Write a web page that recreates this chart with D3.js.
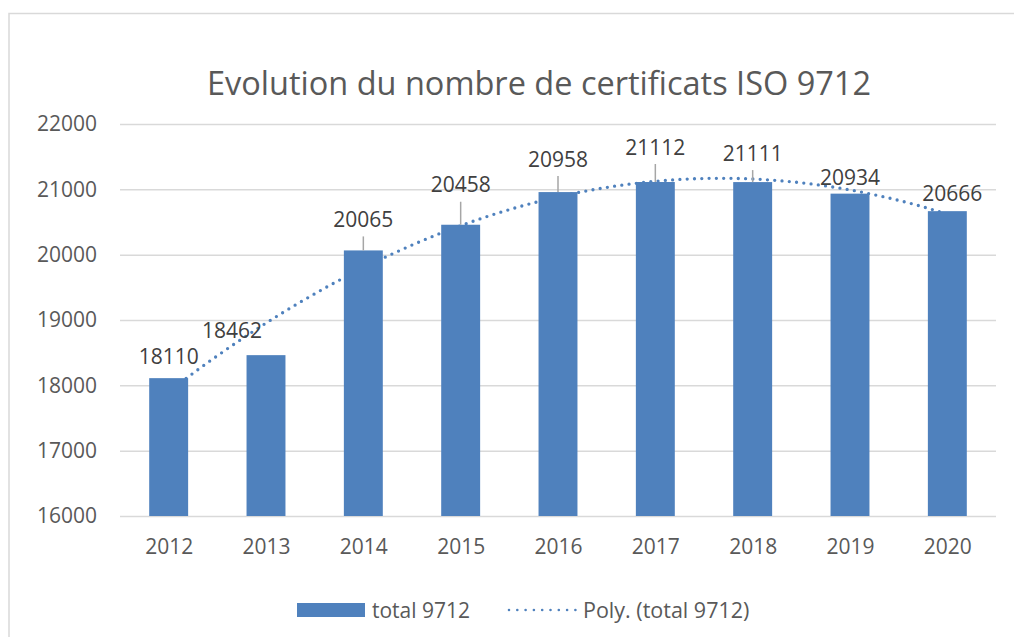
<!DOCTYPE html>
<html>
<head>
<meta charset="utf-8">
<script src="https://cdn.jsdelivr.net/npm/d3@7/dist/d3.min.js"></script>
<style>
  html, body { margin: 0; padding: 0; background: #fff; }
  svg { display: block; }
  text { font-family: "Open Sans", "Liberation Sans", sans-serif; }
</style>
</head>
<body>
<svg id="chart" width="1014" height="637"></svg>
<script>
// ---- data ----
const categories = ["2012", "2013", "2014", "2015", "2016", "2017", "2018", "2019", "2020"];
const values = [18110, 18462, 20065, 20458, 20958, 21112, 21111, 20934, 20666];
const yTicks = [16000, 17000, 18000, 19000, 20000, 21000, 22000];
const seriesName = "total 9712";
const trendName = "Poly. (total 9712)";
const titleText = "Evolution du nombre de certificats ISO 9712";
// label placement (pixels: horizontal shift from bar center, label center above bar top), as in the original
const labelDx = [0, -34, 0, 0, 0, 0, 0, 0, 5];
const labelDy = [-22, -25, -31, -40, -33, -35, -29, -16, -18];

const W = 1014, H = 637;
const margin = { left: 120, right: 1014 - 996, top: 124, bottom: 637 - 516 };
const svg = d3.select("#chart");

const blue = "#4F81BD";
const grid = "#D9D9D9";
const axisText = "#595959";

// chart border
svg.append("path")
  .attr("d", `M9,${H} V13.5 H${W}`)
  .attr("fill", "none").attr("stroke", grid).attr("stroke-width", 1.5);

const x = d3.scaleBand().domain(categories).range([margin.left, W - margin.right]).paddingInner(0.6).paddingOuter(0.3);
const xc = d3.scalePoint().domain(categories).range([margin.left, W - margin.right]).padding(0.5);
const y = d3.scaleLinear().domain([16000, 22000]).range([H - margin.bottom, margin.top]);

// title
svg.append("text").attr("x", 539).attr("y", 95).attr("text-anchor", "middle")
  .attr("font-size", 32.5).attr("fill", axisText).text(titleText);

// gridlines + y axis
const yAxis = d3.axisLeft(y).tickValues(yTicks).tickFormat(d3.format("d"))
  .tickSize(-(W - margin.left - margin.right)).tickPadding(23);
const gy = svg.append("g").attr("transform", `translate(${margin.left},0)`).call(yAxis);
gy.select(".domain").remove();
gy.selectAll(".tick line").attr("stroke", grid).attr("stroke-width", 1.5);
gy.selectAll(".tick text").attr("fill", axisText).attr("font-size", 21);

// x axis labels
const xAxis = d3.axisBottom(xc).tickSize(0).tickPadding(23);
const gx = svg.append("g").attr("transform", `translate(0,${H - margin.bottom})`).call(xAxis);
gx.select(".domain").remove();
gx.selectAll(".tick text").attr("fill", axisText).attr("font-size", 21);

// polynomial (order 2) least squares trendline, computed from the series like Excel's "Poly." trendline
function polyFit(xs, ys) {
  const n = xs.length;
  let s0 = n, s1 = 0, s2 = 0, s3 = 0, s4 = 0, t0 = 0, t1 = 0, t2 = 0;
  xs.forEach((xv, i) => {
    const yv = ys[i];
    s1 += xv; s2 += xv * xv; s3 += xv ** 3; s4 += xv ** 4;
    t0 += yv; t1 += xv * yv; t2 += xv * xv * yv;
  });
  const M = [[s0, s1, s2, t0], [s1, s2, s3, t1], [s2, s3, s4, t2]];
  for (let i = 0; i < 3; i++) {
    for (let k = i + 1; k < 3; k++) {
      const f = M[k][i] / M[i][i];
      for (let j = i; j < 4; j++) M[k][j] -= f * M[i][j];
    }
  }
  const c = [0, 0, 0];
  for (let i = 2; i >= 0; i--) {
    let s = M[i][3];
    for (let j = i + 1; j < 3; j++) s -= M[i][j] * c[j];
    c[i] = s / M[i][i];
  }
  return xv => c[0] + c[1] * xv + c[2] * xv * xv;
}
const idx = categories.map((d, i) => i + 1);
const fit = polyFit(idx, values);
const step = xc.step();
const trendPts = d3.range(1, 9.001, 0.05).map(t => [xc(categories[0]) + (t - 1) * step, y(fit(t))]);
svg.append("path")
  .attr("d", d3.line()(trendPts))
  .attr("fill", "none").attr("stroke", blue).attr("stroke-width", 3.3)
  .attr("stroke-linecap", "round").attr("stroke-dasharray", "0 7.3");

// bars
svg.append("g").selectAll("rect").data(values).join("rect")
  .attr("x", (d, i) => x(categories[i]))
  .attr("y", d => y(d))
  .attr("width", x.bandwidth())
  .attr("height", d => y(16000) - y(d))
  .attr("fill", blue);

// leader lines + data labels
const lbl = svg.append("g");
values.forEach((v, i) => {
  const cx = xc(categories[i]) + labelDx[i];
  const cy = y(v) + labelDy[i];
  const lineTop = cy + 17;
  if (y(v) - lineTop > 10) {
    lbl.append("line").attr("x1", xc(categories[i])).attr("x2", xc(categories[i]))
      .attr("y1", lineTop).attr("y2", y(v)).attr("stroke", "#A6A6A6").attr("stroke-width", 1.5);
  }
  lbl.append("text").attr("x", cx).attr("y", cy).attr("dy", "0.36em").attr("text-anchor", "middle")
    .attr("font-size", 21).attr("fill", "#404040").text(d3.format("d")(v));
});

// legend
const lg = svg.append("g");
lg.append("rect").attr("x", 297).attr("y", 603).attr("width", 68).attr("height", 14).attr("fill", blue);
lg.append("text").attr("x", 372).attr("y", 610).attr("dy", "0.36em").attr("font-size", 21).attr("fill", axisText).text(seriesName);
lg.append("line").attr("x1", 509).attr("x2", 576).attr("y1", 610).attr("y2", 610)
  .attr("stroke", blue).attr("stroke-width", 2.6).attr("stroke-linecap", "round").attr("stroke-dasharray", "0 8.3");
lg.append("text").attr("x", 583).attr("y", 610).attr("dy", "0.36em").attr("font-size", 21.5).attr("fill", axisText).text(trendName);
</script>
</body>
</html>
